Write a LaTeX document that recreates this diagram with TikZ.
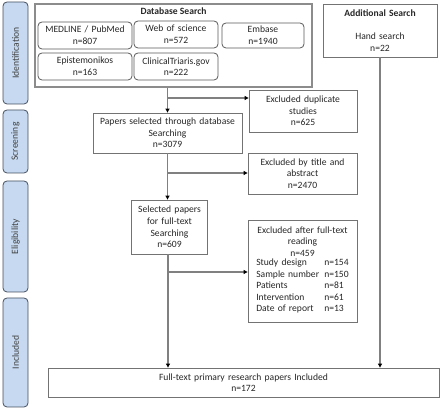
\documentclass[tikz,border=0pt]{standalone}
\usepackage{fontspec}
\setmainfont{Carlito}
\usepackage{tikz}
\usetikzlibrary{arrows.meta}
\definecolor{phasefill}{RGB}{198,217,240}
\definecolor{phaseline}{RGB}{70,80,95}
\colorlet{linegray}{black!50}
\colorlet{boxgray}{black!55}
\tikzstyle{phasebox}=[draw=phaseline,fill=phasefill,rounded corners=4pt,line width=.8pt,rotate=90,text=black!75,minimum height=25pt]
\tikzstyle{dbbox}=[draw=black!45,line width=1.4pt,minimum width=277pt,minimum height=83pt]
\tikzstyle{srcbox}=[draw=black!65,rounded corners=4pt,line width=.8pt,align=center,minimum height=27pt]
\tikzstyle{stepbox}=[draw=boxgray,line width=.8pt,align=center]
\tikzstyle{flowhead}=[>/.tip={Triangle[length=4pt,width=4pt,color=black]}]
\tikzstyle{flow}=[line width=1.1pt,draw=linegray,flowhead,->]

\begin{document}
\begin{tikzpicture}[x=1pt,y=-1pt,font=\fontsize{9.6}{11.6}\selectfont,inner sep=0pt,text=black!85]
	\useasboundingbox (0,0) rectangle (440,414);
	% phases
	\node[phasebox,minimum width=102pt] (ident) at (15.5,53)    {Identification};
	\node[phasebox,minimum width=63pt]  (screen) at (15.5,141.5) {Screening};
	\node[phasebox,minimum width=111pt] (elig) at (15.5,236.5)   {Eligibility};
	\node[phasebox,minimum width=109pt] (incl) at (15.5,352.5)   {Included};
	% sources
	\node[dbbox] (db) at (173.5,45.5) {};
	\node (dbtitle) at (173.5,11) {\textbf{Database Search}};
	\node[srcbox,minimum width=94pt,text width=90pt] (medline) at (85,35.5)   {MEDLINE / PubMed\\n=807};
	\node[srcbox,minimum width=84pt,text width=82pt] (wos) at (176,34.5)      {Web of science\\n=572};
	\node[srcbox,minimum width=82pt,text width=78pt,minimum height=25pt] (embase) at (263,35.5) {Embase\\n=1940};
	\node[srcbox,minimum width=94pt,text width=90pt] (episte) at (85,66.5)    {Epistemonikos\\n=163};
	\node[srcbox,minimum width=84pt,text width=82pt] (clin) at (176,66.5)     {ClinicalTriaris.gov\\n=222};
	\node[stepbox,minimum width=114pt,text width=110pt,minimum height=53pt] (hand) at (380,30.5)
		{\textbf{Additional Search}\\[11.6pt]Hand search\\n=22};
	% steps
	\node[stepbox,minimum width=149pt,text width=145pt,minimum height=40pt] (papers) at (167.5,133)
		{Papers selected through database\\Searching\\n=3079};
	\node[stepbox,minimum width=76pt,text width=74pt,minimum height=54pt] (selected) at (169.5,227)
		{Selected papers\\for full-text\\Searching\\n=609};
	\node[stepbox,minimum width=391pt,text width=380pt,minimum height=29pt] (final) at (243.5,382.5)
		{Full-text primary research papers Included\\n=172};
	% exclusions
	\node[stepbox,minimum width=108pt,text width=104pt,minimum height=42pt] (dup) at (303,111)
		{Excluded duplicate\\studies\\n=625};
	\node[stepbox,minimum width=109pt,text width=105pt,minimum height=41pt] (title) at (302.5,173.5)
		{Excluded by title and\\abstract\\n=2470};
	\node[stepbox,minimum width=109pt,text width=105pt,minimum height=102pt] (fulltext) at (302.5,271)
		{Excluded after full-text\\reading\\n=459\\
		\begin{tabular}{@{}p{68pt}@{}l@{}}
			Study design & n=154\\
			Sample number & n=150\\
			Patients & n=81\\
			Intervention & n=61\\
			Date of report & n=13
		\end{tabular}};
	\coordinate (b1) at (168,98);
	\coordinate (b2) at (168,173);
	\coordinate (b3) at (168,272);
	\draw[flow] (papers.north |- db.south) -- (papers.north);
	\draw[flow] (b1) -- (b1 -| dup.west);
	\draw[flow] (papers.south) -- (papers.south |- selected.north);
	\draw[flow] (b2) -- (b2 -| title.west);
	\draw[flow] (selected.south -| b3) -- (final.north -| b3);
	\draw[flow] (b3) -- (b3 -| fulltext.west);
	\draw[flow] (hand.south) -- (hand.south |- final.north);
\end{tikzpicture}
\end{document}
